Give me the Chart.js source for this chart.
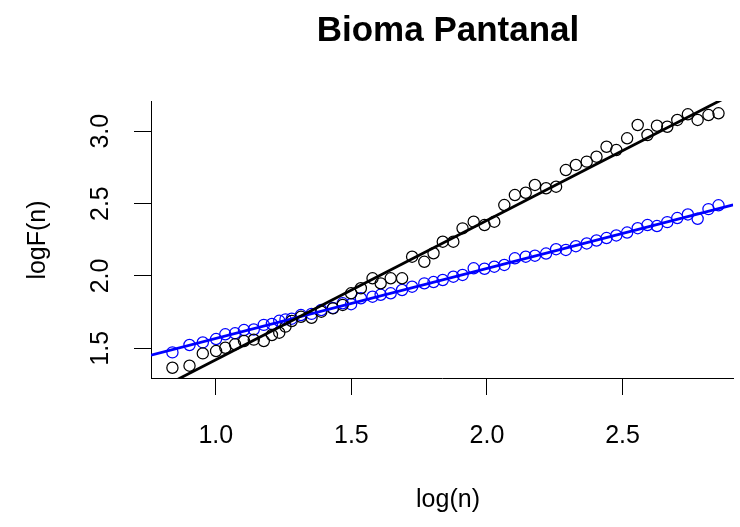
<!DOCTYPE html>
<html>
<head>
<meta charset="utf-8">
<script src="https://cdn.jsdelivr.net/npm/chart.js@4.4.1/dist/chart.umd.min.js"></script>
<style>
  html, body { margin: 0; padding: 0; background: #fff; }
  #wrap { width: 740px; height: 527px; }
</style>
</head>
<body>
<div id="wrap"><canvas id="grafico" width="740" height="527"></canvas></div>
<script>
// log(n) das escalas.
const logN = [
  0.840, 0.903, 0.952, 1.001, 1.035, 1.071, 1.104, 1.140, 1.177, 1.207,
  1.234, 1.257, 1.280, 1.314, 1.353, 1.389, 1.432, 1.468, 1.499, 1.535,
  1.578, 1.608, 1.645, 1.687, 1.724, 1.769, 1.803, 1.837, 1.876, 1.910,
  1.951, 1.991, 2.027, 2.064, 2.103, 2.143, 2.177, 2.218, 2.255, 2.291,
  2.328, 2.368, 2.404, 2.441, 2.477, 2.517, 2.556, 2.592, 2.627, 2.665,
  2.702, 2.741, 2.777, 2.817, 2.854];

// logF(n) serie preta.
const logFPreto = [
  1.366, 1.380, 1.465, 1.481, 1.504, 1.528, 1.550, 1.560, 1.550, 1.592,
  1.608, 1.650, 1.689, 1.718, 1.711, 1.753, 1.776, 1.800, 1.880, 1.915,
  1.984, 1.949, 1.984, 1.984, 2.133, 2.098, 2.157, 2.237, 2.237, 2.329,
  2.375, 2.352, 2.375, 2.490, 2.559, 2.575, 2.629, 2.606, 2.617, 2.732,
  2.767, 2.790, 2.824, 2.893, 2.870, 2.951, 3.043, 2.974, 3.038, 3.031,
  3.078, 3.117, 3.078, 3.112, 3.124];

// logF(n) serie azul.
const logFAzul = [
  1.472, 1.523, 1.541, 1.564, 1.597, 1.604, 1.626, 1.630, 1.662, 1.668,
  1.690, 1.700, 1.705, 1.730, 1.738, 1.765, 1.778, 1.811, 1.805, 1.846,
  1.857, 1.870, 1.880, 1.903, 1.926, 1.949, 1.958, 1.972, 1.995, 2.007,
  2.053, 2.050, 2.064, 2.076, 2.122, 2.133, 2.140, 2.155, 2.185, 2.180,
  2.206, 2.225, 2.245, 2.262, 2.280, 2.300, 2.330, 2.352, 2.345, 2.372,
  2.400, 2.425, 2.395, 2.462, 2.488];

// retas ajustadas (intercepto, inclinacao).
const ajustePreto = [0.458, 0.963];
const ajusteAzul = [1.085, 0.4835];

// eixos.
const xLim = [0.761, 2.908];
const yLim = [1.295, 3.209];
const xTicks = [1.0, 1.5, 2.0, 2.5];
const yTicks = [1.5, 2.0, 2.5, 3.0];

const fonte = '"Liberation Sans", Arial, sans-serif';

function pontos(xs, ys) {
  return xs.map(function(x, i) { return { x: x, y: ys[i] }; });
}
function reta(coef) {
  return xLim.map(function(x) { return { x: x, y: coef[0] + coef[1] * x }; });
}

// textos ao estilo R.
const textoR = {
  id: 'textoR',
  afterDraw: function(chart) {
    const ctx = chart.ctx;
    const ys = chart.scales.y;
    ctx.save();
    ctx.fillStyle = '#000';
    ctx.textAlign = 'center';
    ctx.textBaseline = 'middle';

    ctx.font = 'bold 35px ' + fonte;
    ctx.fillText('Bioma Pantanal', 448, 31);

    ctx.font = '25px ' + fonte;
    ctx.fillText('log(n)', 448, 500);

    ctx.save();
    ctx.translate(38, 240);
    ctx.rotate(-Math.PI / 2);
    ctx.fillText('logF(n)', 0, 0);
    ctx.restore();

    yTicks.forEach(function(v) {
      ctx.save();
      ctx.translate(101, ys.getPixelForValue(v));
      ctx.rotate(-Math.PI / 2);
      ctx.fillText(v.toFixed(1), 0, 0);
      ctx.restore();
    });
    ctx.restore();
  }
};

new Chart(document.getElementById('grafico'), {
  type: 'scatter',
  data: {
    datasets: [
      {
        type: 'line',
        data: reta(ajustePreto),
        borderColor: '#000',
        borderWidth: 2.8,
        pointRadius: 0,
      },
      {
        type: 'line',
        data: reta(ajusteAzul),
        borderColor: '#0000ff',
        borderWidth: 2.8,
        pointRadius: 0,
      },
      {
        data: pontos(logN, logFPreto),
        borderColor: '#000',
        backgroundColor: 'rgba(0,0,0,0)',
        borderWidth: 1.25,
        pointRadius: 5.6,
      },
      {
        data: pontos(logN, logFAzul),
        borderColor: '#0000ff',
        backgroundColor: 'rgba(0,0,0,0)',
        borderWidth: 1.25,
        pointRadius: 5.6,
      },
    ],
  },
  options: {
    responsive: false,
    animation: false,
    devicePixelRatio: 1,
    layout: { padding: { top: 101, right: 0, left: 0, bottom: 0 } },
    plugins: {
      legend: { display: false },
      tooltip: { enabled: false },
      title: { display: false },
    },
    scales: {
      x: {
        type: 'linear',
        min: xLim[0],
        max: xLim[1],
        afterFit: function(scale) { scale.height = 149; },
        afterBuildTicks: function(scale) {
          scale.ticks = xTicks.map(function(v) { return { value: v }; });
        },
        grid: {
          drawOnChartArea: false,
          color: '#000',
          tickLength: 17,
          tickWidth: 1,
        },
        border: { display: true, color: '#000', width: 1 },
        ticks: {
          color: '#000',
          font: { family: fonte, size: 25 },
          padding: 26,
          maxRotation: 0,
          callback: function(v) { return v.toFixed(1); },
        },
      },
      y: {
        type: 'linear',
        min: yLim[0],
        max: yLim[1],
        afterFit: function(scale) { scale.width = 151; },
        afterBuildTicks: function(scale) {
          scale.ticks = yTicks.map(function(v) { return { value: v }; });
        },
        grid: {
          drawOnChartArea: false,
          color: '#000',
          tickLength: 17,
          tickWidth: 1,
        },
        border: { display: true, color: '#000', width: 1 },
        ticks: {
          color: 'rgba(0,0,0,0)',
          font: { family: fonte, size: 25 },
          callback: function(v) { return ''; },
        },
      },
    },
  },
  plugins: [textoR],
});
</script>
</body>
</html>
